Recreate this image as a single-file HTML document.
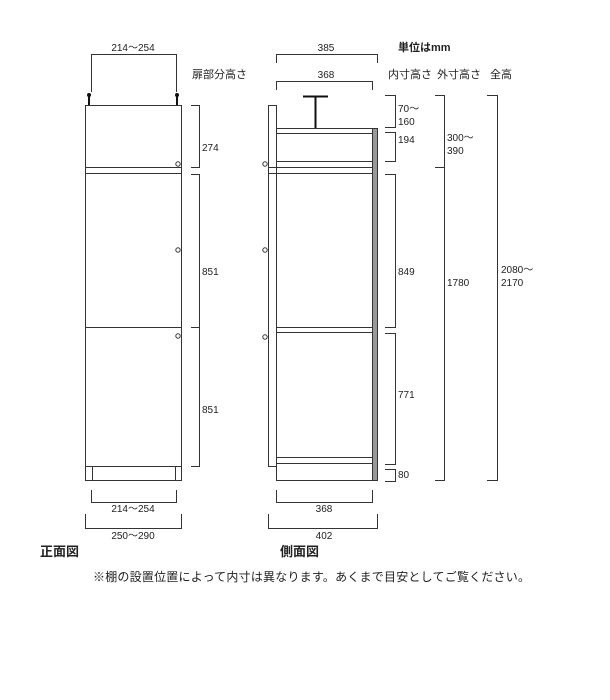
<!DOCTYPE html>
<html><head><meta charset="utf-8"><style>
html,body{margin:0;padding:0;background:#fff;}
svg{display:block;}
text{font-family:"Liberation Sans","Noto Sans CJK JP",sans-serif;font-size:10px;fill:#222;}
.j{font-size:11px;}
</style></head><body>
<svg width="610" height="700" viewBox="0 0 610 700" xmlns="http://www.w3.org/2000/svg">
<g fill="none" stroke="#333" stroke-width="1">
<path d="M91.5 92V54.5H176.5V92"/>
<rect x="85.5" y="105.5" width="96" height="375"/>
<line x1="85" y1="167.5" x2="181" y2="167.5"/>
<line x1="85" y1="173.5" x2="181" y2="173.5"/>
<line x1="85" y1="327.5" x2="181" y2="327.5"/>
<line x1="85" y1="466.5" x2="181" y2="466.5"/>
<line x1="92.5" y1="466" x2="92.5" y2="480"/>
<line x1="175.5" y1="466" x2="175.5" y2="480"/>
<circle cx="178" cy="164" r="2.2"/>
<circle cx="178" cy="250" r="2.2"/>
<circle cx="178" cy="336" r="2.2"/>
<path d="M191 105.5H199.5V167.5H191"/>
<path d="M191 174.5H199.5V327.5H191"/>
<path d="M191 327.5H199.5V466.5H191"/>
<path d="M91.5 490V502.5H176.5V490"/>
<path d="M85.5 514V528.5H181.5V514"/>
<path d="M276.5 63V54.5H377.5V63"/>
<path d="M276.5 90V81.5H372.5V90"/>
<rect x="268.5" y="105.5" width="8" height="361"/>
<rect x="276.5" y="128.5" width="96" height="5"/>
<rect x="276.5" y="161.5" width="96" height="6"/>
<rect x="268.5" y="167.5" width="109" height="6"/>
<rect x="276.5" y="327.5" width="96" height="5"/>
<rect x="276.5" y="457.5" width="96" height="6"/>
<rect x="276.5" y="128.5" width="96" height="352"/>
<rect x="372.5" y="128.5" width="5" height="352" fill="#999"/>
<circle cx="265" cy="164" r="2.2"/>
<circle cx="265" cy="250" r="2.2"/>
<circle cx="265" cy="337" r="2.2"/>
<path d="M276.5 490V502.5H372.5V490"/>
<path d="M268.5 514V528.5H377.5V514"/>
<path d="M385 95.5H395.5V127.5H385"/>
<path d="M385 132.5H395.5V161.5H385"/>
<path d="M385 174.5H395.5V327.5H385"/>
<path d="M385 333.5H395.5V464.5H385"/>
<path d="M385 469.5H395.5V481.5H385"/>
<path d="M435 95.5H444.5V480.5H435"/>
<line x1="435" y1="167.5" x2="444" y2="167.5"/>
<path d="M487 95.5H497.5V480.5H487"/>
</g>
<g stroke="#111" stroke-width="2" fill="#111">
<line x1="89" y1="96" x2="89" y2="105"/>
<line x1="177" y1="96" x2="177" y2="105"/>
<circle cx="89" cy="95" r="2" stroke="none"/>
<circle cx="177" cy="95" r="2" stroke="none"/>
<line x1="303" y1="96.5" x2="328" y2="96.5"/>
<line x1="315.5" y1="96" x2="315.5" y2="128"/>
</g>
<text x="133" y="51" text-anchor="middle">214〜254</text>
<text class="j" x="192" y="78">扉部分高さ</text>
<text x="202" y="151">274</text>
<text x="202" y="275">851</text>
<text x="202" y="413">851</text>
<text x="133" y="512" text-anchor="middle">214〜254</text>
<text x="133" y="539" text-anchor="middle">250〜290</text>
<text x="326" y="51" text-anchor="middle">385</text>
<text x="326" y="78" text-anchor="middle">368</text>
<text class="j" x="398" y="51" style="font-weight:bold">単位はmm</text>
<text class="j" x="388" y="78">内寸高さ</text>
<text class="j" x="437" y="78">外寸高さ</text>
<text class="j" x="490" y="78">全高</text>
<text x="398" y="112">70〜</text>
<text x="398" y="125">160</text>
<text x="398" y="143">194</text>
<text x="398" y="275">849</text>
<text x="398" y="398">771</text>
<text x="398" y="478">80</text>
<text x="447" y="141">300〜</text>
<text x="447" y="154">390</text>
<text x="447" y="286">1780</text>
<text x="501" y="273">2080〜</text>
<text x="501" y="286">2170</text>
<text x="324" y="512" text-anchor="middle">368</text>
<text x="324" y="539" text-anchor="middle">402</text>
<text class="j" x="40" y="556" style="font-size:13px;font-weight:bold">正面図</text>
<text class="j" x="280" y="556" style="font-size:13px;font-weight:bold">側面図</text>
<text class="j" x="93" y="581" style="font-size:12px" textLength="437">※棚の設置位置によって内寸は異なります。あくまで目安としてご覧ください。</text>
</svg>
</body></html>
